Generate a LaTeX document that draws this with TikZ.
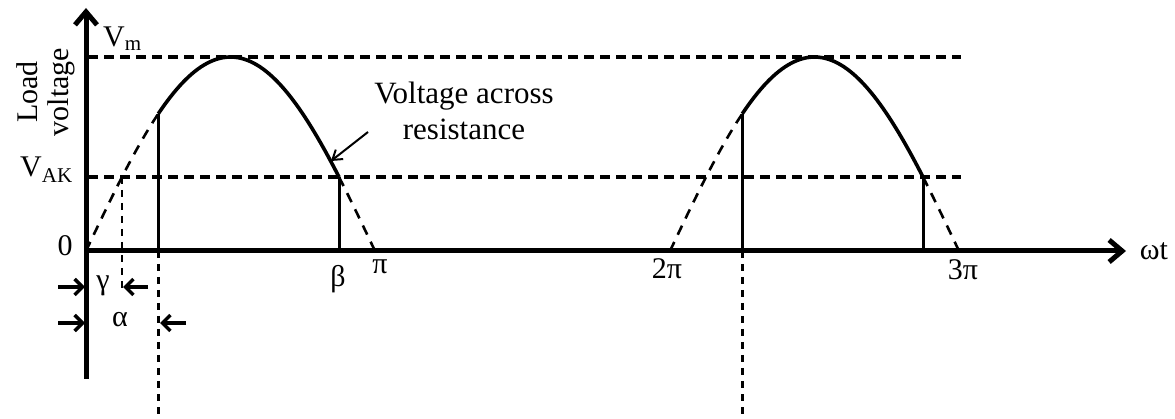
\documentclass[tikz,border=0pt]{standalone}
\usepackage{fontspec}
\setmainfont{Liberation Serif}
\usetikzlibrary{arrows.meta}
\begin{document}
\begin{tikzpicture}[x=1pt,y=-1pt,
  lbl/.style={font=\fontsize{30}{31}\selectfont, inner sep=0pt},
  axisline/.style={line width=5pt, -{Straight Barb[length=13pt,width=22pt]}},
  refdash/.style={line width=3.2pt, dash pattern=on 10pt off 6pt},
  curvedash/.style={line width=2.6pt, dash pattern=on 10pt off 8pt},
  vdash/.style={line width=2.8pt, dash pattern=on 7pt off 6pt},
  wave/.style={line width=3.6pt},
  cutline/.style={line width=3pt},
  dimarrow/.style={line width=3.4pt, -{Straight Barb[length=8pt,width=16pt]}},
  callout/.style={line width=2pt, -{Straight Barb[length=9pt,width=12pt]}}]
\useasboundingbox (0,0) rectangle (1175,419);

% key points
\coordinate (O) at (86,251);
\coordinate (ytop) at (86,8);
\coordinate (ybot) at (86,379);
\coordinate (xend) at (1126,251);
\coordinate (vmL) at (88,57);
\coordinate (vmR) at (961,57);
\coordinate (vakL) at (88,177);
\coordinate (vakR) at (961,177);
\coordinate (gtop) at (122,177);
\coordinate (gbot) at (122,292);
\coordinate (a1top) at (158.25,113.8);
\coordinate (a1bot) at (158.25,251);
\coordinate (a1low) at (158.25,419);
\coordinate (b1top) at (339,177);
\coordinate (b1bot) at (339,251);
\coordinate (a2top) at (742.25,113.8);
\coordinate (a2bot) at (742.25,251);
\coordinate (a2low) at (742.25,419);
\coordinate (b2top) at (923,177);
\coordinate (b2bot) at (923,251);

% reference dashed lines
\draw[refdash] (vmL) -- (vmR);
\draw[refdash] (vakL) -- (vakR);

% first hump
\draw[curvedash] plot[domain=0:45, samples=30] ({86+\x/180*289},{251-194*sin(\x)});
\draw[wave] plot[domain=45:157.6, samples=60] ({86+\x/180*289},{251-194*sin(\x)});
\draw[curvedash] plot[domain=157.6:180, samples=20] ({86+\x/180*289},{251-194*sin(\x)});
% second hump
\draw[curvedash] plot[domain=0:45, samples=30] ({670+\x/180*289},{251-194*sin(\x)});
\draw[wave] plot[domain=45:157.6, samples=60] ({670+\x/180*289},{251-194*sin(\x)});
\draw[curvedash] plot[domain=157.6:180, samples=20] ({670+\x/180*289},{251-194*sin(\x)});

% solid verticals
\draw[cutline] (a1top) -- (a1bot);
\draw[cutline] (b1top) -- (b1bot);
\draw[cutline] (a2top) -- (a2bot);
\draw[cutline] (b2top) -- (b2bot);

% dashed verticals
\draw[vdash] (gtop) -- (gbot);
\draw[vdash] (a1bot) -- (a1low);
\draw[vdash] (a2bot) -- (a2low);

% axes
\draw[axisline] (ybot) -- (ytop);
\draw[axisline] (O) -- (xend);

% labels
\node[lbl, anchor=base west] (vm) at (103,47) {V\textsubscript{m}};
\node[lbl, anchor=base west] (vak) at (20,177) {V\textsubscript{AK}};
\node[lbl, rotate=90, align=center, font=\fontsize{30}{31}\selectfont] (ylab) at (46,92) {Load\\voltage};
\node[lbl] (zero) at (65,246) {0};
\node[lbl] (beta) at (338,279) {β};
\node[lbl] (pi1) at (380,267) {π};
\node[lbl] (pi2) at (667,269) {2π};
\node[lbl] (pi3) at (963,270) {3π};
\node[lbl] (wt) at (1154,251) {ωt};
\node[lbl] (gam) at (103,286) {γ};
\node[lbl] (alp) at (120,320) {α};
\node[lbl, align=center, font=\fontsize{31}{36}\selectfont] (vres) at (464,111) {Voltage across\\resistance};

% callout
\coordinate (cstart) at (368,132);
\coordinate (cend) at (331,161);
\draw[callout] (cstart) -- (cend);

% dimension arrows
\coordinate (g1s) at (58,287);
\coordinate (g1e) at (85,287);
\coordinate (g2s) at (148,287);
\coordinate (g2e) at (123,287);
\coordinate (al1s) at (58,323);
\coordinate (al1e) at (85,323);
\coordinate (al2s) at (186,323);
\coordinate (al2e) at (160,323);
\draw[dimarrow] (g1s) -- (g1e);
\draw[dimarrow] (g2s) -- (g2e);
\draw[dimarrow] (al1s) -- (al1e);
\draw[dimarrow] (al2s) -- (al2e);
\end{tikzpicture}
\end{document}
